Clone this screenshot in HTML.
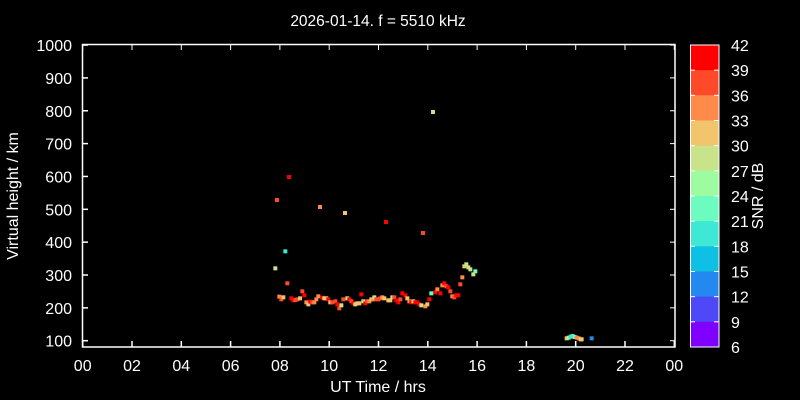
<!DOCTYPE html><html><head><meta charset="utf-8"><style>
html,body{margin:0;background:#000;width:800px;height:400px;overflow:hidden}
svg{display:block}
text{font-family:"Liberation Sans",sans-serif;fill:#fff}
</style></head><body>
<svg id="s" width="800" height="400" xmlns="http://www.w3.org/2000/svg">
<text x="378" y="26" font-size="15.5" text-anchor="middle">2026-01-14. f = 5510 kHz</text>
<rect x="82.5" y="44.5" width="592.5" height="302.5" fill="none" stroke="#fff" stroke-width="1.5"/>
<text x="378" y="392" font-size="16" text-anchor="middle">UT Time / hrs</text>
<text transform="translate(18,196) rotate(-90)" font-size="16" text-anchor="middle">Virtual height / km</text>
<text transform="translate(763,196) rotate(-90)" font-size="16" text-anchor="middle">SNR / dB</text>
<g id="g"></g>
</svg>
<script>
var g=document.getElementById('g'),h='';
for(var i=0;i<=12;i++){var x=82.7+i*49.3;h+='<line x1="'+x+'" y1="347" x2="'+x+'" y2="341" stroke="#fff" stroke-width="1.5"/><line x1="'+x+'" y1="44.5" x2="'+x+'" y2="50" stroke="#fff"/>';var v=(i*2)%24;var l=(v<10?'0':'')+v;h+='<text x="'+x+'" y="371" font-size="16" text-anchor="middle">'+l+'</text>';}
for(var k=1;k<=10;k++){var y=340.7-(k-1)*32.85;h+='<line x1="82.5" y1="'+y+'" x2="88" y2="'+y+'" stroke="#fff" stroke-width="1.5"/><line x1="670" y1="'+y+'" x2="675" y2="'+y+'" stroke="#fff"/><text x="72" y="'+(y+6)+'" font-size="16" text-anchor="end">'+(k*100)+'</text>';}
var C=['#ff0000','#ff4a2a','#ff8a4a','#f2c46c','#c8e38a','#9dfba0','#6cfcc0','#3fe8d4','#0ec1e4','#2388f0','#4f48f8','#7f00ff'];
var bh=302/12;
for(var i=0;i<12;i++){h+='<rect x="690" y="'+(45+i*bh)+'" width="29" height="'+(bh+0.3)+'" fill="'+C[i]+'"/>';}
h+='<rect x="690.5" y="45" width="28.5" height="302" fill="none" stroke="#fff"/>';
for(var i=0;i<=12;i++){var y=45+i*bh;h+='<line x1="690" y1="'+y+'" x2="695" y2="'+y+'" stroke="#fff"/><line x1="714" y1="'+y+'" x2="719" y2="'+y+'" stroke="#fff"/><text x="731" y="'+(y+6)+'" font-size="16">'+(42-3*i)+'</text>';}
var R='#ff0000',F='#ff4a2a',O='#ff8a4a',Y='#f2c46c',G='#c8e38a',L='#9dfba0',M='#6cfcc0',T='#3fe8d4',B='#2388f0';
var z=[[46,55,G],[76,4,T],[82,100,F],[58,140,O],[64,148,F],[70,142,Y],[94,145,R],[100,151,R],[106,150,F],[112,148,F],[120,145,Y],[127,124,F],[133,136,R],[139,157,O],[145,163,Y],[151,155,R],[157,157,F],[163,157,O],[169,148,O],[175,139,O],[187,143,R],[193,145,Y],[199,145,Y],[205,148,R],[211,157,Y],[217,157,F],[226,154,F],[232,163,R],[238,175,F],[244,166,G],[250,148,F],[262,145,G],[268,148,R],[274,154,F],[280,160,R],[286,163,G],[292,160,Y],[298,160,Y],[304,133,R],[310,154,G],[316,160,R],[322,154,F],[328,154,O],[334,148,Y],[340,148,O],[343,142,G],[349,148,F],[355,148,F],[361,145,F],[367,142,O],[373,145,Y],[385,151,Y],[391,151,Y],[397,142,G],[403,142,F],[409,151,R],[415,157,R],[421,148,F],[427,130,R],[436,136,R],[442,145,Y],[448,154,O],[454,157,R],[460,154,Y],[466,157,R],[472,157,R],[478,163,R],[484,166,G],[496,169,O],[502,163,Y],[508,148,R],[514,130,M],[526,127,R],[532,118,O],[541,130,R],[547,106,O],[553,100,R],[559,109,F],[565,112,R],[571,124,F],[577,139,O],[583,142,F],[589,136,R],[595,136,R],[601,103,F],[607,82,O],[613,49,Y],[619,43,G],[625,52,G],[631,58,G],[640,73,G],[646,64,M]];
function p(x,y,c){h+='<rect x="'+(x-2)+'" y="'+(y-2)+'" width="4" height="4" fill="'+c+'"/>';}
z.forEach(function(a){p(a[0]/3+260,a[1]/3+250,a[2]);});
[[277,200,F],[289,177,R],[320,207,O],[345,213,Y],[386,222,R],[423,233,F],[433,112,G]].forEach(function(a){p(a[0],a[1],a[2]);});
[[35,40,Y],[41,38,L],[47,35,T],[53,33,T],[59,36,M],[65,38,O],[71,40,O],[77,43,Y],[80,43,Y],[110,40,B]].forEach(function(a){p(a[0]/3+555,a[1]/3+325,a[2]);});
g.innerHTML=h;
</script></body></html>
